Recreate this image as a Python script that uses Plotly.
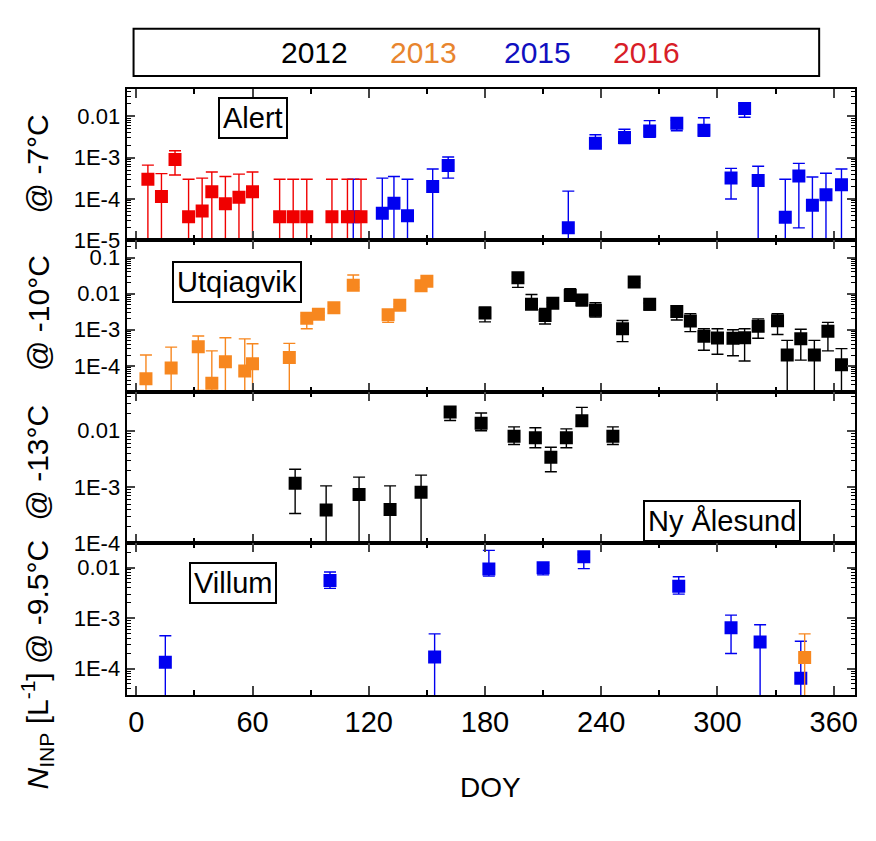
import plotly.graph_objects as go
from plotly.subplots import make_subplots

BOTTOM = 1e-7  # lower bound meaning "error bar reaches below the axis"

# ---------- Alert (@ -7 °C) ----------
alert16_doy = [6, 13, 20, 27, 34, 39, 46, 53, 60, 74, 81, 88, 101, 109, 116]
alert16_val = [3.0e-4, 1.15e-4, 9.0e-4, 3.7e-5, 5.1e-5, 1.5e-4, 7.7e-5, 1.1e-4, 1.5e-4,
               3.7e-5, 3.7e-5, 3.7e-5, 3.7e-5, 3.7e-5, 3.7e-5]
alert16_hi = [6.6e-4, 4.1e-4, 1.47e-3, 3.0e-4, 3.2e-4, 4.5e-4, 3.5e-4, 4.0e-4, 4.5e-4,
              3.0e-4, 3.0e-4, 3.0e-4, 3.0e-4, 3.0e-4, 3.0e-4]
alert16_lo = [BOTTOM, BOTTOM, 3.8e-4, BOTTOM, BOTTOM, BOTTOM, BOTTOM, BOTTOM, BOTTOM,
              BOTTOM, BOTTOM, BOTTOM, BOTTOM, BOTTOM, BOTTOM]

alert15_doy = [112, 127, 133, 140, 153, 161, 223, 237, 252, 265, 279, 293, 307, 314, 321,
               335, 342, 349, 356, 364]
alert15_val = [3.7e-5, 4.5e-5, 7.9e-5, 3.9e-5, 2.0e-4, 6.5e-4, 2.0e-5, 2.25e-3, 3.1e-3, 4.4e-3,
               6.8e-3, 4.6e-3, 3.2e-4, 1.55e-2, 2.8e-4, 3.6e-5, 3.6e-4, 7.1e-5, 1.26e-4, 2.2e-4]
alert15_hi = [3.0e-4, 3.2e-4, 3.5e-4, 3.0e-4, 5.3e-4, 1.04e-3, 1.55e-4, 3.6e-3, 4.9e-3, 7.9e-3,
              8.0e-3, 9.3e-3, 5.5e-4, 1.8e-2, 6.2e-4, 3.0e-4, 7.3e-4, 3.4e-4, 4.2e-4, 5.3e-4]
alert15_lo = [BOTTOM, BOTTOM, BOTTOM, BOTTOM, BOTTOM, 3.2e-4, BOTTOM, 1.9e-3, 2.2e-3, 3.1e-3,
              4.5e-3, 3.3e-3, 1.0e-4, 9.5e-3, BOTTOM, BOTTOM, 2.0e-5, BOTTOM, BOTTOM, BOTTOM]

# ---------- Utqiagvik (@ -10 °C) ----------
utq13_doy = [5, 18, 32, 39, 46, 56, 60, 79, 88, 94, 102, 112, 130, 136, 147, 150]
utq13_val = [4.4e-5, 8.7e-5, 3.4e-4, 3.3e-5, 1.3e-4, 7.2e-5, 1.15e-4, 1.7e-4, 2.1e-3, 2.7e-3,
             4.1e-3, 1.7e-2, 2.6e-3, 4.8e-3, 1.66e-2, 2.2e-2]
utq13_hi = [2.0e-4, 3.3e-4, 6.7e-4, 2.6e-4, 6.0e-4, 5.6e-4, 4.1e-4, 4.2e-4, 2.4e-3, 3.0e-3,
            4.5e-3, 3.3e-2, 2.9e-3, 5.2e-3, 1.9e-2, 2.5e-2]
utq13_lo = [BOTTOM, BOTTOM, 2.1e-5, BOTTOM, BOTTOM, BOTTOM, BOTTOM, BOTTOM, 1.07e-3, 2.4e-3,
            3.7e-3, 1.5e-2, 1.6e-3, 4.4e-3, 1.5e-2, 2.0e-2]

utq12_doy = [180, 197, 204, 211, 215, 224, 230, 237, 251, 257, 265, 279, 286, 293, 300, 308,
             314, 321, 331, 336, 343, 350, 357, 364]
utq12_val = [2.9e-3, 2.78e-2, 5.1e-3, 2.5e-3, 5.4e-3, 8.9e-3, 6.7e-3, 3.5e-3, 1.07e-3, 2.1e-2,
             5.1e-3, 3.2e-3, 1.74e-3, 6.6e-4, 5.9e-4, 5.8e-4, 6.0e-4, 1.26e-3, 1.78e-3, 2.0e-4,
             5.6e-4, 2.0e-4, 9.1e-4, 1.07e-4]
utq12_hi = [4.2e-3, 3.0e-2, 9.5e-3, 3.9e-3, 5.8e-3, 1.38e-2, 7.2e-3, 5.6e-3, 1.8e-3, 2.3e-2,
            5.5e-3, 3.5e-3, 2.8e-3, 1.07e-3, 1.07e-3, 1.0e-3, 1.07e-3, 2.0e-3, 2.8e-3, 5.1e-4,
            1.03e-3, 5.1e-4, 1.6e-3, 3.0e-4]
utq12_lo = [1.66e-3, 1.5e-2, 4.8e-3, 1.45e-3, 5.0e-3, 8.5e-3, 4.6e-3, 2.25e-3, 4.7e-4, 1.9e-2,
            3.5e-3, 1.86e-3, 8.9e-4, 2.7e-4, 2.1e-4, 1.9e-4, 1.36e-4, 5.8e-4, 7.4e-4, BOTTOM,
            1.44e-4, BOTTOM, 2.6e-4, BOTTOM]

# ---------- Ny Ålesund (@ -13 °C) ----------
ny12_doy = [82, 98, 115, 131, 147, 162, 178, 195, 206, 214, 222, 230, 246]
ny12_val = [1.17e-3, 3.9e-4, 7.4e-4, 4.0e-4, 8.1e-4, 2.16e-2, 1.36e-2, 8.0e-3, 7.5e-3, 3.4e-3,
            7.5e-3, 1.5e-2, 8.0e-3]
ny12_hi = [2.07e-3, 1.05e-3, 1.5e-3, 1.05e-3, 1.63e-3, 2.3e-2, 2.07e-2, 1.17e-2, 1.13e-2, 5.1e-3,
           1.08e-2, 2.6e-2, 1.17e-2]
ny12_lo = [3.4e-4, BOTTOM, BOTTOM, BOTTOM, BOTTOM, 1.52e-2, 1.0e-2, 5.7e-3, 5.0e-3, 1.87e-3,
           5.0e-3, 1.2e-2, 5.7e-3]

# ---------- Villum (@ -9.5 °C) ----------
vil15_doy = [15, 100, 154, 182, 210, 231, 280, 307, 322, 343]
vil15_val = [1.35e-4, 5.6e-3, 1.7e-4, 9.4e-3, 1.0e-2, 1.64e-2, 4.3e-3, 6.5e-4, 3.4e-4, 6.5e-5]
vil15_hi = [4.5e-4, 8.2e-3, 4.9e-4, 2.2e-2, 1.1e-2, 1.8e-2, 6.6e-3, 1.15e-3, 7.4e-4, 3.5e-4]
vil15_lo = [BOTTOM, 3.9e-3, BOTTOM, 6.8e-3, 7.2e-3, 9.6e-3, 3.0e-3, 2.0e-4, BOTTOM, BOTTOM]

vil13_doy = [345]
vil13_val = [1.66e-4]
vil13_hi = [4.9e-4]
vil13_lo = [BOTTOM]

# ---------- labels ----------
years = ["2012", "2013", "2015", "2016"]
station_names = ["Alert", "Utqiagvik", "Ny Ålesund", "Villum"]
x_tickvals = [0, 60, 120, 180, 240, 300, 360]
y_ticks = [
    ([1e-2, 1e-3, 1e-4, 1e-5], ["0.01", "1E-3", "1E-4", "1E-5"]),
    ([1e-1, 1e-2, 1e-3, 1e-4], ["0.1", "0.01", "1E-3", "1E-4"]),
    ([1e-2, 1e-3, 1e-4], ["0.01", "1E-3", "1E-4"]),
    ([1e-2, 1e-3, 1e-4], ["0.01", "1E-3", "1E-4"]),
]
y_titles = ["@ -7°C", "@ -10°C", "@ -13°C",
            "<i>N</i><sub>INP</sub> [L<sup>-1</sup>] @ -9.5°C"]

# ---------- style ----------
COL = {"2012": "#000000", "2013": "#F7871F", "2015": "#0000F0", "2016": "#F00000"}
TXT = {"2012": "#000000", "2013": "#E8852E", "2015": "#1010C0", "2016": "#D81E28"}
OFF = 8                      # page body margin of the browser
W, H = 860, 825              # figure size (fits inside the 876x841 window with the margin)
FONT = "Liberation Sans, Arial, sans-serif"


def px_x(p):
    return (p - OFF) / W


def px_y(p):
    return 1 - (p - OFF) / H


fig = make_subplots(rows=4, cols=1, shared_xaxes=True, vertical_spacing=0)


def add(row, doy, val, hi, lo, year):
    up = [h - v for h, v in zip(hi, val)]
    dn = [v - l for v, l in zip(val, lo)]
    fig.add_trace(go.Scatter(
        x=doy, y=val, mode="markers",
        marker=dict(symbol="square", size=13, color=COL[year], line=dict(width=0)),
        error_y=dict(type="data", symmetric=False, array=up, arrayminus=dn,
                     color=COL[year], thickness=1.4, width=6),
        showlegend=False, hoverinfo="x+y"), row=row, col=1)


add(1, alert15_doy, alert15_val, alert15_hi, alert15_lo, "2015")
add(1, alert16_doy, alert16_val, alert16_hi, alert16_lo, "2016")
add(2, utq13_doy, utq13_val, utq13_hi, utq13_lo, "2013")
add(2, utq12_doy, utq12_val, utq12_hi, utq12_lo, "2012")
add(3, ny12_doy, ny12_val, ny12_hi, ny12_lo, "2012")
add(4, vil15_doy, vil15_val, vil15_hi, vil15_lo, "2015")
add(4, vil13_doy, vil13_val, vil13_hi, vil13_lo, "2013")

# panel pixel bounds (top, bottom) and log ranges
panels = [(90, 244), (244, 398), (398, 552), (552, 706)]
yranges = [[-5, -1.33], [-4.72, -0.52], [-4, -1.31], [-4.52, -1.52]]
xdom = [px_x(127), px_x(858)]
minor_vals = [m * 10.0 ** e for e in range(-6, 0) for m in range(2, 10)]

for i in range(4):
    top, bot = panels[i]
    tv, tt = y_ticks[i]
    fig.update_yaxes(
        type="log", range=yranges[i], domain=[px_y(bot), px_y(top)],
        tickvals=tv, ticktext=tt, ticks="inside", ticklen=8, tickwidth=2,
        minor=dict(ticks="inside", ticklen=4, tickwidth=1, tickcolor="black",
                   tickvals=minor_vals, showgrid=False),
        showline=True, linewidth=2, linecolor="black", mirror="ticks",
        showgrid=False, zeroline=False,
        tickfont=dict(family=FONT, size=22, color="black"),
        row=i + 1, col=1)
    fig.update_xaxes(
        range=[-5, 371], domain=xdom, tickvals=x_tickvals,
        ticks="inside", ticklen=9, tickwidth=2,
        minor=dict(ticks="inside", ticklen=5, tickwidth=1.5, tickcolor="black", dtick=30,
                   tick0=0, showgrid=False),
        showline=True, linewidth=2, linecolor="black", mirror="ticks",
        showgrid=False, zeroline=False,
        tickfont=dict(family=FONT, size=29, color="black"),
        row=i + 1, col=1)

annotations = []
# station name boxes (x centre px, y centre px)
box_pos = [(254, 120), (238, 286), (724, 529), (234, 592)]
for name, (cx, cy) in zip(station_names, box_pos):
    annotations.append(dict(
        text=name, x=px_x(cx), y=px_y(cy), xref="paper", yref="paper",
        showarrow=False, font=dict(family=FONT, size=29, color="black"),
        bordercolor="black", borderwidth=2, borderpad=3, bgcolor="white",
        xanchor="center", yanchor="middle"))

# y titles
ytitle_pos = [166, 318, 470, 675]
for t, cy in zip(y_titles, ytitle_pos):
    annotations.append(dict(
        text=t, x=px_x(38), y=px_y(cy), xref="paper", yref="paper", textangle=-90,
        showarrow=False, font=dict(family=FONT, size=30, color="black"),
        xanchor="center", yanchor="middle"))

# x title
annotations.append(dict(text="DOY", x=px_x(492), y=px_y(800), xref="paper", yref="paper",
                        showarrow=False, font=dict(family=FONT, size=28, color="black"),
                        xanchor="center", yanchor="middle"))

# year legend
legend_x = [316, 425, 539, 649]
for yr, cx in zip(years, legend_x):
    annotations.append(dict(text=yr, x=px_x(cx), y=px_y(53), xref="paper", yref="paper",
                            showarrow=False,
                            font=dict(family=FONT, size=30, color=TXT[yr]),
                            xanchor="center", yanchor="middle"))

fig.update_layout(
    width=W, height=H, margin=dict(l=0, r=0, t=0, b=0),
    paper_bgcolor="white", plot_bgcolor="white",
    annotations=annotations,
    shapes=[dict(type="rect", xref="paper", yref="paper",
                 x0=px_x(134), x1=px_x(822), y0=px_y(77), y1=px_y(29),
                 line=dict(color="black", width=2), fillcolor="rgba(0,0,0,0)")],
    showlegend=False,
)

fig.write_html("out.html")
